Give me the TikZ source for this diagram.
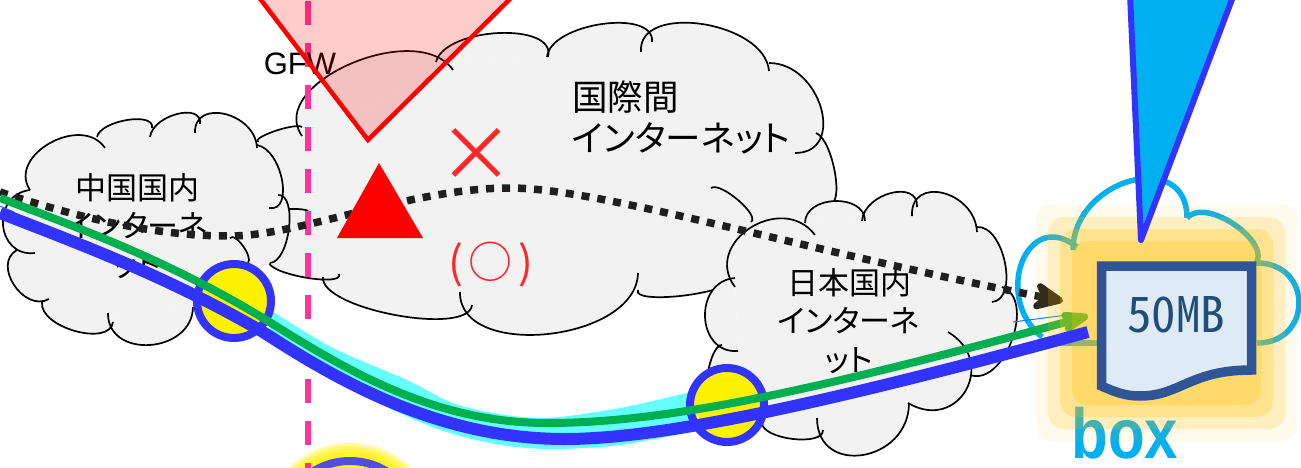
\documentclass[tikz,border=0pt]{standalone}
\usepackage{fontspec}
\newfontfamily\jpfont{Noto Sans CJK JP}[RawFeature=+palt]
\newfontfamily\gothicfont{Noto Sans CJK JP}[RawFeature=+hwid]
\setsansfont{Liberation Sans}
\usetikzlibrary{arrows.meta}
\definecolor{cloudgray}{HTML}{F2F2F2}
\definecolor{routeblue}{HTML}{3333FF}
\definecolor{routegreen}{HTML}{00B050}
\definecolor{routecyan}{HTML}{66FFFF}
\definecolor{gfwpink}{HTML}{FF3399}
\definecolor{boxcyan}{HTML}{00B0F0}
\definecolor{glowgold}{HTML}{FFC000}
\definecolor{filedark}{HTML}{2F5597}
\definecolor{filelight}{HTML}{DEEAF6}
\definecolor{filetext}{HTML}{1F4E79}
\tikzset{
	x=1pt,
	y=-1pt,
	cloudbody/.style={fill=cloudgray},
	cloudline/.style={draw=black, line width=1.7pt},
	boxline/.style={draw=boxcyan, line width=5.5pt},
	jplabel/.style={inner sep=0pt, align=center, font=\jpfont\fontsize{31}{38.5}\selectfont},
	redmark/.style={inner sep=0pt, text=red!85!white},
	spot/.style={draw=routeblue, line width=8pt, fill=yellow},
	glowpart/.style={fill=glowgold, rounded corners=16pt},
	dottedroute/.style={draw=black!88, line width=7.5pt, dash pattern=on 8pt off 8pt,
		-{Stealth[round,length=40pt,width=36pt,inset=14pt]}},
	greenroute/.style={draw=routegreen, line width=8pt,
		-{Stealth[round,length=40pt,width=28pt,inset=12pt]}},
	blueroute/.style={draw=routeblue, line width=12pt},
}
% one lobe of a cloud: start, middle of the arc, end
\newcommand{\bump}[7]{
	\pgfmathsetmacro\bumpdx{1.333*(#4-(#2+#6)/2)}
	\pgfmathsetmacro\bumpdy{1.333*(#5-(#3+#7)/2)}
	\path[#1] (#2,#3) .. controls ({#2+\bumpdx},{#3+\bumpdy}) and ({#6+\bumpdx},{#7+\bumpdy}) .. (#6,#7);
}
\newcommand{\worldcloud}[1]{
	\foreach \ax/\ay/\mx/\my/\bx/\by in {302/136/350/64/453/70, 436/62/499/33/548/57, 547/57/602/24/652/42,
		641/52/702/24/769/71, 769/63/821/108/795/153, 816/133/835/173/828/203, 638/290/680/296/732/280,
		638/273/548/334/460/292, 472/305/395/315/323/277, 339/274/308/278/269/263, 302/127/275/131/258/142,
		287/210/297/209/308/211, 711/188/738/200/751/222}
		{\bump{#1}{\ax}{\ay}{\mx}{\my}{\bx}{\by}}
}
\newcommand{\chinacloud}[1]{
	\foreach \ax/\ay/\mx/\my/\bx/\by in {30/190/3/225/35/253, 17/250/14/285/49/299, 42/302/75/331/113/322,
		108/313/150/345/193/307, 270/263/289/228/278/195, 269/208/282/180/257/145, 257/148/225/114/195/133,
		200/124/177/114/150/137, 152/128/127/120/97/137, 105/148/50/143/30/190, 230/238/243/246/248/263}
		{\bump{#1}{\ax}{\ay}{\mx}{\my}{\bx}{\by}}
}
\newcommand{\japancloud}[1]{
	\foreach \ax/\ay/\mx/\my/\bx/\by in {735/287/750/228/815/235, 805/223/835/201/865/221, 862/221/891/193/917/207,
		912/216/943/193/977/232, 977/227/1005/263/992/302, 1002/287/1012/340/970/375, 948/332/966/390/908/403,
		909/403/863/455/817/418, 823/430/793/439/762/423, 722/345/708/372/712/400, 738/351/705/317/735/278}
		{\bump{#1}{\ax}{\ay}{\mx}{\my}{\bx}{\by}}
}

\begin{document}
\begin{tikzpicture}
	\path[use as bounding box, fill=white] (0,0) rectangle (1301,468);

	% clouds
	\fill[cloudbody] (302,136) -- (453,70) -- (436,62) -- (548,57) -- (547,57) -- (652,42) -- (641,52) -- (769,71) -- (769,63)
		-- (795,153) -- (816,133) -- (828,203) -- (732,280) -- (638,290) -- (638,273) -- (460,292) -- (472,305) -- (323,277)
		-- (339,274) -- (269,263) -- (258,142) -- (302,127) -- cycle;
	\worldcloud{cloudbody}
	\worldcloud{cloudline}
	\fill[cloudbody] (30,190) -- (105,148) -- (97,137) -- (152,128) -- (150,137) -- (200,124) -- (195,133) -- (257,148) -- (257,145)
		-- (269,208) -- (278,195) -- (270,263) -- (193,307) -- (108,313) -- (113,322) -- (42,302) -- (49,299) -- (17,250)
		-- (35,253) -- cycle;
	\chinacloud{cloudbody}
	\chinacloud{cloudline}
	\fill[cloudbody] (735,278) -- (735,287) -- (815,235) -- (805,223) -- (865,221) -- (862,221) -- (917,207) -- (912,216) -- (977,232)
		-- (977,227) -- (992,302) -- (1002,287) -- (970,375) -- (966,390) -- (908,403) -- (909,403) -- (817,418) -- (823,430)
		-- (762,423) -- (712,400) -- (722,345) -- (738,351) -- cycle;
	\japancloud{cloudbody}
	\japancloud{cloudline}

	% named points
	\coordinate (gfwtop) at (308,1);
	\coordinate (gfwend) at (308,468);
	\coordinate (dotstart) at (0,192);
	\coordinate (dotend) at (1063,301);
	\coordinate (greenstart) at (0,198);
	\coordinate (greenmid) at (263,318);
	\coordinate (greenlow) at (547,423);
	\coordinate (greenend) at (1088,316);
	\coordinate (bluestart) at (0,213);
	\coordinate (bluemid) at (263,332);
	\coordinate (bluelow) at (565,439);
	\coordinate (blueend) at (1088,332);
	\coordinate (thinA) at (1013,322);
	\coordinate (thinB) at (1067,315);
	\coordinate (thinC) at (0,206);
	\coordinate (thinD) at (14,212);
	\coordinate (gatetip) at (368,140);
	\coordinate (gateleft) at (258,-4);
	\coordinate (gateright) at (513,-4);
	\coordinate (markleft) at (337,238);
	\coordinate (markright) at (423,238);
	\coordinate (marktop) at (379,163);
	\coordinate (pointertip) at (1141,240);
	\coordinate (pointerleft) at (1130,-6);
	\coordinate (pointerright) at (1234,-6);
	\coordinate (halo) at (350,531);

	% bottom spot, mostly outside the page
	\foreach \r in {88,85,82,79,76}
		\fill[yellow, opacity=.35] (halo) circle (\r pt);
	\draw[routeblue, line width=8pt, opacity=.85] (halo) circle (70pt);

	% GFW line and gate
	\draw[gfwpink, line width=6pt, dash pattern=on 24pt off 18pt] (gfwtop) -- (gfwend);
	\node[inner sep=0pt, font=\sffamily\fontsize{31}{31}\selectfont] (gfw) at (300,63.5) {GFW};
	\filldraw[draw=red, fill=red, fill opacity=.2, line width=4.5pt] (gateleft) -- (gatetip) -- (gateright);

	% labels
	\node[jplabel, align=left, anchor=north west, font=\jpfont\fontsize{35.5}{40.5}\selectfont] (world) at (572,81) {国際間\\インターネット};
	\node[jplabel] (china) at (137,226) {中国国内\\インターネ\\ット};
	\node[jplabel] (japan) at (849,321) {日本国内\\インターネ\\ット};
	\node[redmark, font=\jpfont\fontsize{76}{76}\selectfont] (cross) at (476,155) {×};
	\node[redmark, font=\jpfont\fontsize{44}{44}\selectfont] (maybe) at (491,265) {(\hspace{6pt}○\hspace{6pt})};

	% routes under the icon glow
	\fill[routecyan] plot[smooth] coordinates {(270,310)(333,348)(407,380)(450,402)(493,413)(547,418)(620,408)(695,391)}
		-- (700,430) -- plot[smooth] coordinates {(700,430)(620,445)(547,449)(490,443)(427,425)(333,380)(270,335)} -- cycle;
	\node[spot, circle, minimum size=74pt, inner sep=0pt] (spotchina) at (234,301) {};
	\node[spot, circle, minimum size=74pt, inner sep=0pt] (spotjapan) at (727,405) {};

	% box icon
	\foreach \ax/\ay/\mx/\my/\bx/\by in {1042/337/1022/262/1077/247, 1073/250/1130/181/1187/218,
		1187/218/1235/225/1255/265, 1257/263/1299/303/1257/343}
		{\bump{boxline}{\ax}{\ay}{\mx}{\my}{\bx}{\by}}
	\draw[boxline] (1060,343) -- (1100,343);
	\node[inner sep=0pt, text=boxcyan, yscale=1.18, transform shape, font=\sffamily\bfseries\fontsize{60}{60}\selectfont] (boxname) at (1125,433) {box};

	\draw[dottedroute] (dotstart) .. controls (100,225) and (170,236) .. (230,236) .. controls (300,236) and (410,188) .. (510,188)
		.. controls (600,188) and (800,250) .. (dotend);
	\draw[routecyan!40!blue, line width=1pt] (thinC) -- (thinD);
	\draw[blue!50!cyan, line width=1pt] (thinA) -- (thinB);
	\draw[greenroute] (greenstart) .. controls (90,232) and (170,262) .. (greenmid) .. controls (340,366) and (430,423) .. (greenlow)
		.. controls (660,423) and (800,395) .. (greenend);

	% glow, document, last route, pointer
	\foreach \inset/\alpha in {0/.08,12/.18,24/.25,36/.25}
		\fill[glowpart, opacity=\alpha] ({1036+\inset},{205+\inset}) rectangle ({1297-\inset},{441-\inset});
	\filldraw[draw=filedark, fill=filelight, line width=9.5pt, miter limit=2] (1101.5,266) -- (1251.5,266) -- (1251.5,370)
		.. controls (1190,370) and (1180,396) .. (1140,396) .. controls (1125,396) and (1115,392) .. (1101.5,386) -- cycle;
	\node[inner sep=0pt, text=filetext, font=\gothicfont\fontsize{49}{49}\selectfont] (size) at (1176,315) {50MB};
	\draw[blueroute] (bluestart) .. controls (90,248) and (170,278) .. (bluemid) .. controls (340,382) and (440,439) .. (bluelow)
		.. controls (660,439) and (820,405) .. (blueend);
	\filldraw[draw=routeblue, fill=boxcyan, line width=6pt, line join=round] (pointerleft) -- (pointertip) -- (pointerright);

	% red mark on top of the dotted route
	\fill[red] (markleft) -- (markright) -- (marktop) -- cycle;
\end{tikzpicture}
\end{document}
